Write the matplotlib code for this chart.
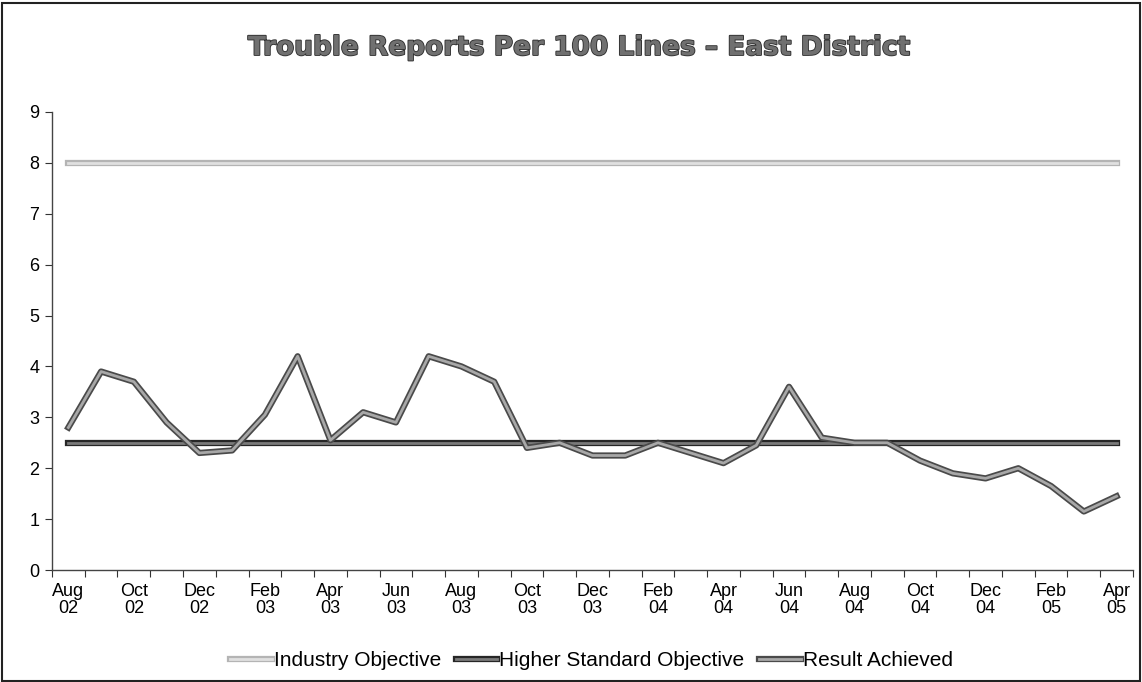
import matplotlib
matplotlib.use("Agg")
import matplotlib.pyplot as plt
import matplotlib.patheffects as pe
from matplotlib.patches import Rectangle
import numpy as np

# monthly categories Aug 02 .. Apr 05
months = ["Aug", "Sep", "Oct", "Nov", "Dec", "Jan", "Feb", "Mar", "Apr", "May", "Jun", "Jul"]
n_points = 33

result_achieved = [2.8, 3.9, 3.7, 2.9, 2.3, 2.35, 3.05, 4.2, 2.55, 3.1, 2.9,
                   4.2, 4.0, 3.7, 2.4, 2.5, 2.25, 2.25, 2.5, 2.3, 2.1, 2.45,
                   3.6, 2.6, 2.5, 2.5, 2.15, 1.9, 1.8, 2.0, 1.65, 1.15, 1.45]
industry_objective = [8.0] * n_points
higher_standard = [2.5] * n_points

title = "Trouble Reports Per 100 Lines \u2013 East District"


def make_labels():
    labels = []
    year = 2
    for i in range(n_points):
        m = i % 12
        if months[m] == "Jan":
            year += 1
        labels.append(f"{months[m]}\n{year:02d}")
    return labels


def main() -> None:
    plt.rcParams["font.family"] = ["Liberation Sans", "DejaVu Sans"]
    fig = plt.figure(figsize=(11.42, 6.82), dpi=100)
    ax = fig.add_axes([0.0455, 0.1642, 0.9466, 0.6716])

    x = np.arange(n_points)
    styles = [
        (industry_objective, "Industry Objective", "#b4b4b4", "#e0e0e0"),
        (higher_standard, "Higher Standard Objective", "#262626", "#7a7a7a"),
        (result_achieved, "Result Achieved", "#4a4a4a", "#a8a8a8"),
    ]
    for values, label, outer, inner in styles:
        ax.plot(x, values, color=inner, lw=2.0, label=label,
                path_effects=[pe.Stroke(linewidth=4.5, foreground=outer), pe.Normal()])

    ax.set_xlim(-0.5, n_points - 0.5)
    ax.set_ylim(0, 9)
    ax.set_yticks(range(0, 10))

    ax.set_xticks(np.arange(-0.5, n_points, 1.0))
    ax.set_xticklabels([])
    labels = make_labels()
    ax.set_xticks(x[::2], minor=True)
    ax.set_xticklabels(labels[::2], minor=True, fontsize=13, linespacing=1.0)
    ax.tick_params(axis="x", which="major", length=5, direction="out", color="#333333")
    ax.tick_params(axis="x", which="minor", length=0, pad=9)
    ax.tick_params(axis="y", length=5, color="#333333", labelsize=13, pad=4)

    for side in ["top", "right"]:
        ax.spines[side].set_visible(False)
    for side in ["left", "bottom"]:
        ax.spines[side].set_color("#444444")
        ax.spines[side].set_linewidth(1.0)

    fig.text(0.507, 1 - 48 / 682, title, ha="center", va="center", fontsize=19,
             fontweight="bold", family="DejaVu Sans", color="#707070",
             path_effects=[pe.withStroke(linewidth=1.3, foreground="#303030")])

    fig.legend(loc="center", bbox_to_anchor=(0.518, 1 - 661 / 682), ncol=3, frameon=False,
               fontsize=15, handlelength=2.0, handletextpad=0.1, columnspacing=0.7)

    fig.patches.append(Rectangle((0.002, 0.002), 0.996, 0.994, transform=fig.transFigure,
                                 fill=False, edgecolor="#222222", linewidth=1.5))

    fig.savefig("out.png", dpi=100)
    plt.close(fig)


if __name__ == "__main__":
    main()
